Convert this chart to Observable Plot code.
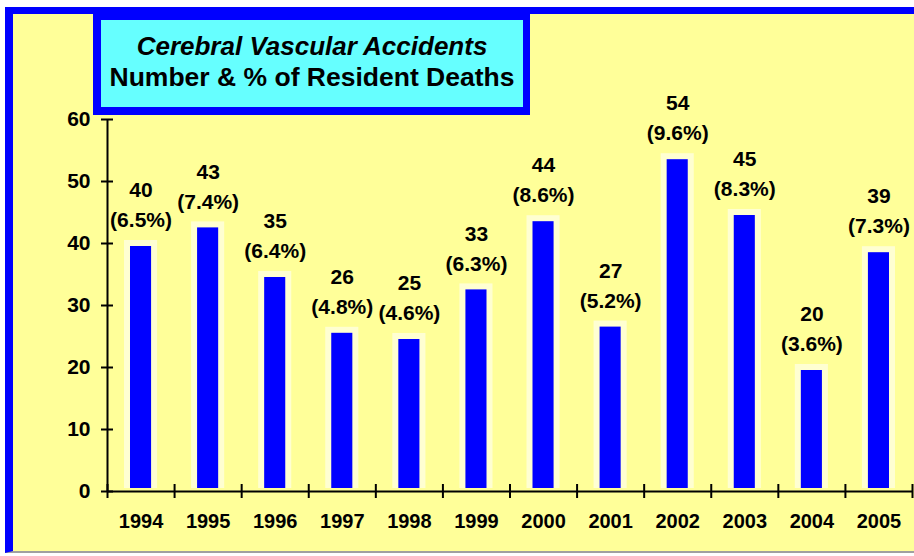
<!DOCTYPE html>
<html>
<head>
<meta charset="utf-8">
<script src="https://cdn.jsdelivr.net/npm/d3@7"></script>
<script src="https://cdn.jsdelivr.net/npm/@observablehq/plot@0.6"></script>
<style>
  html, body { margin: 0; padding: 0; background: #ffffff; }
  #wrap { position: relative; width: 914px; height: 556px; overflow: hidden; font-family: "Liberation Sans", Arial, sans-serif; }
  #frame { position: absolute; left: 5px; top: 7px; width: 930px; height: 537px;
    background: #FFFF99; border-left: 8px solid #0000FF; border-top: 7px solid #0000FF; border-bottom: 2px solid #A0A0A0; }
  #chart { position: absolute; left: 0; top: 0; }
  #title { position: absolute; left: 93px; top: 14px; width: 422px; height: 87px;
    background: #66FFFF; border-style: solid; border-color: #0000FF; border-width: 6px 7px 8px 8px;
    text-align: center; color: #000; font-weight: bold; font-size: 26.5px; line-height: 31px; white-space: nowrap; }
  #title .l1 { font-style: italic; font-size: 26px; padding-top: 11px; }
</style>
</head>
<body>
<div id="wrap">
  <div id="frame"></div>
  <div id="chart"></div>
  <div id="title"><div class="l1">Cerebral Vascular Accidents</div><div>Number &amp; % of Resident Deaths</div></div>
</div>
<script>
const years = ["1994","1995","1996","1997","1998","1999","2000","2001","2002","2003","2004","2005"];
const counts = [40, 43, 35, 26, 25, 33, 44, 27, 54, 45, 20, 39];
const pcts = ["6.5%","7.4%","6.4%","4.8%","4.6%","6.3%","8.6%","5.2%","9.6%","8.3%","3.6%","7.3%"];
const yTicks = [0, 10, 20, 30, 40, 50, 60];

const data = years.map((y, i) => ({i, year: y, count: counts[i], pct: "(" + pcts[i] + ")"}));
const boundaries = d3.range(years.length + 1);
const centers = years.map((_, i) => i + 0.5);

const font = {fontSize: 20, fontWeight: "bold", fill: "#000"};
const valFont = {fontSize: 21, fontWeight: "bold", fill: "#000"};

const chart = Plot.plot({
  width: 914,
  height: 556,
  marginLeft: 107,
  marginRight: 2,
  marginTop: 119,
  marginBottom: 65,
  style: {background: "transparent", overflow: "visible", fontFamily: "'Liberation Sans', Arial, sans-serif"},
  x: {domain: [0, years.length]},
  y: {domain: [0, 60]},
  marks: [
    Plot.rectY(data, {x1: d => d.i, x2: d => d.i + 1, y: "count", insetLeft: 17, insetRight: 17, insetTop: -3, insetBottom: 3, fill: "#FFFFD2"}),
    Plot.rectY(data, {x1: d => d.i, x2: d => d.i + 1, y: "count", insetLeft: 23, insetRight: 23, insetTop: 3, insetBottom: 3, fill: "#0000FF"}),
    Plot.ruleX([0], {y1: 0, y2: 60, stroke: "#000", strokeWidth: 2}),
    Plot.ruleY([0], {stroke: "#000", strokeWidth: 2}),
    Plot.axisY({ticks: yTicks, tickSize: 12, dx: 6, tickFormat: () => "", label: null, stroke: "#000", strokeWidth: 2}),
    Plot.axisY({ticks: yTicks, tickSize: 0, tickPadding: 17, label: null, ...valFont}),
    Plot.axisX({ticks: boundaries, tickSize: 14, dy: -7, tickFormat: () => "", label: null, stroke: "#000", strokeWidth: 2}),
    Plot.axisX({ticks: centers, tickSize: 0, tickPadding: 22, tickFormat: d => years[Math.floor(d)], label: null, ...font}),
    Plot.text(data, {x: d => d.i + 0.5, y: "count", text: d => String(d.count), dy: -53, lineAnchor: "middle", ...valFont}),
    Plot.text(data, {x: d => d.i + 0.5, y: "count", text: "pct", dy: -23, lineAnchor: "middle", ...valFont})
  ]
});
document.getElementById("chart").appendChild(chart);
</script>
</body>
</html>
